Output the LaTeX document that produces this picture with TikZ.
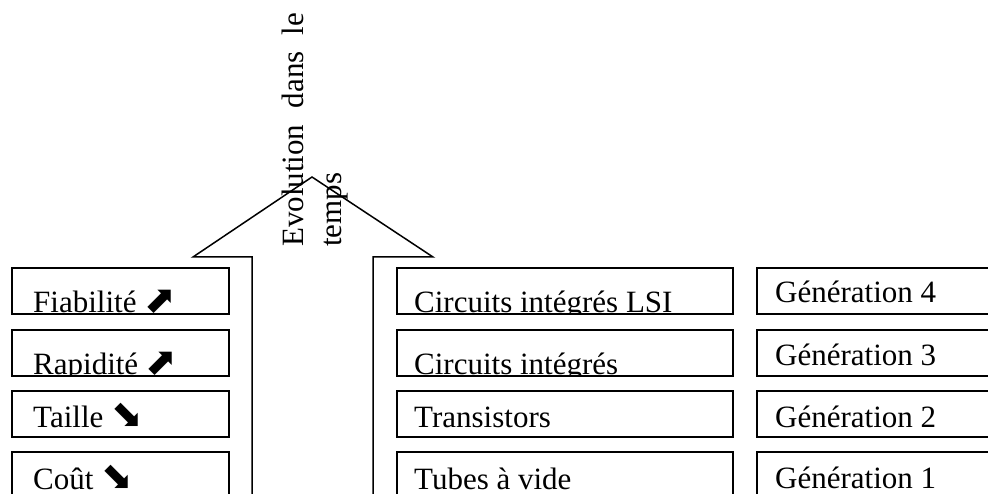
\documentclass[tikz,border=0pt]{standalone}
\usepackage{fontspec}
\setmainfont{Liberation Serif}
\newfontfamily\symfont{DejaVu Sans}
\newcommand\upar{{\symfont\fontsize{38}{40}\selectfont ⬈}}
\newcommand\dnar{{\symfont\fontsize{38}{40}\selectfont ⬊}}
\begin{document}
\begin{tikzpicture}[x=1pt,y=-1pt,
  cell/.style={draw, line width=1.5pt, rectangle, inner sep=0pt, minimum height=46pt},
  lft/.style={cell, minimum width=217pt},
  mid/.style={cell, minimum width=336pt},
  rgt/.style={cell, minimum width=243pt},
  lbl/.style={anchor=base west, inner sep=0pt, font=\fontsize{31}{37}\selectfont},
  up/.style={line width=1.5pt, line join=miter}]
\useasboundingbox (0,0) rectangle (988,494);
\clip (0,0) rectangle (988,494);

% big arrow
\coordinate (s1) at (252,500);
\coordinate (b1) at (252,257);
\coordinate (w1) at (193,257);
\coordinate (tip) at (312,177);
\coordinate (w2) at (433,257);
\coordinate (b2) at (373,257);
\coordinate (s2) at (373,500);
\draw[up] (s1) -- (b1) -- (w1) -- (tip) -- (w2) -- (b2) -- (s2);

\node[lbl, rotate=90] (ev1) at (303,247) {\makebox[234pt][s]{Evolution\hfill dans\hfill le}};
\node[lbl, rotate=90] (ev2) at (341,247) {temps};

% boxes
\node[lft] (l1) at (120.5,291) {};
\node[lft] (l2) at (120.5,353) {};
\node[lft] (l3) at (120.5,414) {};
\node[lft] (l4) at (120.5,475) {};
\node[mid] (m1) at (565,291) {};
\node[mid] (m2) at (565,353) {};
\node[mid] (m3) at (565,414) {};
\node[mid] (m4) at (565,475) {};
\node[rgt] (r1) at (878.5,291) {};
\node[rgt] (r2) at (878.5,353) {};
\node[rgt] (r3) at (878.5,414) {};
\node[rgt] (r4) at (878.5,475) {};

\begin{scope}\clip (l1.south west) rectangle (l1.north east);
\node[lbl] (tl1) at (33,313) {Fiabilité \upar};\end{scope}
\begin{scope}\clip (l2.south west) rectangle (l2.north east);
\node[lbl] (tl2) at (33,374) {Rapidité \upar};\end{scope}
\begin{scope}\clip (l3.south west) rectangle (l3.north east);
\node[lbl] (tl3) at (33,427) {Taille \dnar};\end{scope}
\begin{scope}\clip (l4.south west) rectangle (l4.north east);
\node[lbl] (tl4) at (33,489) {Coût \dnar};\end{scope}

\begin{scope}\clip (m1.south west) rectangle (m1.north east);
\node[lbl] (tm1) at (414,313) {Circuits intégrés LSI};\end{scope}
\begin{scope}\clip (m2.south west) rectangle (m2.north east);
\node[lbl] (tm2) at (414,374) {Circuits intégrés};\end{scope}
\node[lbl] (tm3) at (414,427) {Transistors};
\node[lbl] (tm4) at (414,489) {Tubes à vide};

\node[lbl] (tr1) at (775,303) {Génération 4};
\node[lbl] (tr2) at (775,365) {Génération 3};
\node[lbl] (tr3) at (775,427) {Génération 2};
\node[lbl] (tr4) at (775,488) {Génération 1};
\end{tikzpicture}
\end{document}
